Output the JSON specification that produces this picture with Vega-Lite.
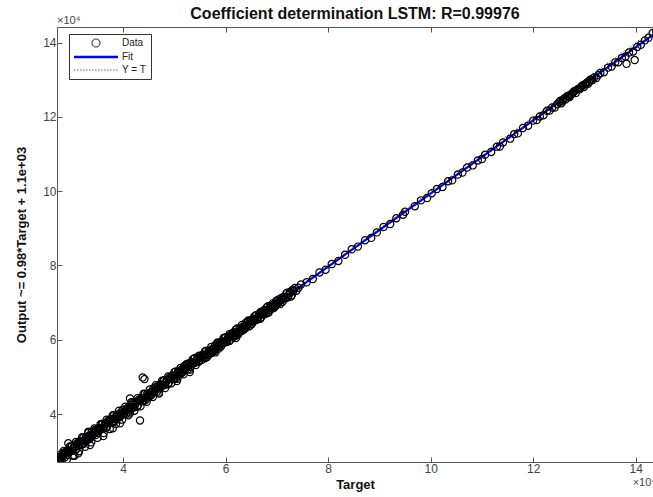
{
"$schema": "https://vega.github.io/schema/vega-lite/v6.json",
"autosize": "none",
"width": 596,
"height": 435,
"padding": {"left": 57, "top": 27, "right": 0, "bottom": 35},
"background": "white",
"title": {"text": "Coefficient determination LSTM: R=0.99976", "fontSize": 16, "fontWeight": "bold", "font": "Liberation Sans", "color": "#111111", "anchor": "middle", "offset": -7},
"config": {"view": {"stroke": null}, "font": "Liberation Sans",
  "axis": {"grid": false, "domainColor": "#555555", "tickColor": "#555555", "labelColor": "#444444", "labelFont": "Liberation Sans", "labelFontSize": 12, "titleFont": "Liberation Sans", "titleFontSize": 13, "titleFontWeight": "bold", "titleColor": "#111111"}},
"datasets": {
"yt": [{"t": 27100, "y": 27100}, {"t": 144200, "y": 144200}],
"fit": [{"t": 27100, "y": 27600}, {"t": 144200, "y": 142900}],
"pts": [
{"t":27300,"y":28150},{"t":27600,"y":27650},{"t":27900,"y":29200},{"t":28200,"y":28550},{"t":28500,"y":29050},{"t":28800,"y":29900},{"t":29100,"y":28950},{"t":29400,"y":30150},{"t":29700,"y":29900},{"t":30000,"y":31400},
{"t":30300,"y":30750},{"t":30600,"y":31550},{"t":30900,"y":30700},{"t":31200,"y":31850},{"t":31500,"y":32650},{"t":31800,"y":31900},{"t":32100,"y":32700},{"t":32400,"y":32050},{"t":32700,"y":33750},{"t":33000,"y":33250},
{"t":33300,"y":34150},{"t":33600,"y":33650},{"t":33900,"y":35200},{"t":34200,"y":34550},{"t":34500,"y":35050},{"t":34800,"y":35900},{"t":35100,"y":34950},{"t":35400,"y":36150},{"t":35700,"y":35900},{"t":36000,"y":37400},
{"t":36300,"y":36750},{"t":36600,"y":37550},{"t":36900,"y":36700},{"t":37200,"y":37850},{"t":37500,"y":38650},{"t":37800,"y":37900},{"t":38100,"y":38700},{"t":38400,"y":38050},{"t":38700,"y":39750},{"t":39000,"y":39250},
{"t":39300,"y":40150},{"t":39600,"y":39650},{"t":39900,"y":41200},{"t":40200,"y":40250},{"t":40500,"y":40750},{"t":40800,"y":41600},{"t":41100,"y":40650},{"t":41400,"y":41850},{"t":41700,"y":41600},{"t":42000,"y":43100},
{"t":42300,"y":42450},{"t":42600,"y":43250},{"t":42900,"y":42400},{"t":43200,"y":43550},{"t":43500,"y":44350},{"t":43800,"y":43600},{"t":44100,"y":44400},{"t":44400,"y":43750},{"t":44700,"y":45450},{"t":45000,"y":44950},
{"t":45300,"y":45850},{"t":45600,"y":45350},{"t":45900,"y":46900},{"t":46200,"y":46250},{"t":46500,"y":46750},{"t":46800,"y":47600},{"t":47100,"y":46650},{"t":47400,"y":47850},{"t":47700,"y":47600},{"t":48000,"y":49100},
{"t":48300,"y":48450},{"t":48600,"y":49250},{"t":48900,"y":48400},{"t":49200,"y":49550},{"t":49500,"y":50350},{"t":49800,"y":49600},{"t":50100,"y":50400},{"t":50400,"y":49750},{"t":50700,"y":51450},{"t":51000,"y":50950},
{"t":51300,"y":51850},{"t":51600,"y":51350},{"t":51900,"y":52900},{"t":52200,"y":52250},{"t":52500,"y":52750},{"t":52800,"y":53600},{"t":53100,"y":52650},{"t":53400,"y":53850},{"t":53700,"y":53600},{"t":54000,"y":55100},
{"t":54300,"y":54450},{"t":54600,"y":55250},{"t":54900,"y":54400},{"t":55200,"y":55150},{"t":55500,"y":55950},{"t":55800,"y":55200},{"t":56100,"y":56000},{"t":56400,"y":55350},{"t":56700,"y":57050},{"t":57000,"y":56550},
{"t":57300,"y":57450},{"t":57600,"y":56950},{"t":57900,"y":58500},{"t":58200,"y":57850},{"t":58500,"y":58350},{"t":58800,"y":59200},{"t":59100,"y":58250},{"t":59400,"y":59450},{"t":59700,"y":59200},{"t":60000,"y":60700},
{"t":60300,"y":60050},{"t":60600,"y":60850},{"t":60900,"y":60000},{"t":61200,"y":61150},{"t":61500,"y":61950},{"t":61800,"y":61200},{"t":62100,"y":62000},{"t":62400,"y":61350},{"t":62700,"y":63050},{"t":63000,"y":62550},
{"t":63300,"y":63450},{"t":63600,"y":62950},{"t":63900,"y":64500},{"t":64200,"y":63850},{"t":64500,"y":64350},{"t":64800,"y":65200},{"t":65100,"y":64250},{"t":65400,"y":65450},{"t":65700,"y":65200},{"t":66000,"y":66700},
{"t":66300,"y":66050},{"t":66600,"y":66850},{"t":66900,"y":66000},{"t":67200,"y":67150},{"t":67500,"y":67950},{"t":67800,"y":67200},{"t":68100,"y":68000},{"t":68400,"y":67350},{"t":68700,"y":69050},{"t":69000,"y":68550},
{"t":69300,"y":69450},{"t":69600,"y":68950},{"t":69900,"y":70500},{"t":70200,"y":69850},{"t":70500,"y":70350},{"t":70800,"y":71200},{"t":71100,"y":70250},{"t":71400,"y":71450},{"t":71700,"y":71200},{"t":72000,"y":72700},
{"t":72300,"y":72050},{"t":72600,"y":72850},{"t":72900,"y":72000},{"t":73200,"y":73150},{"t":73500,"y":73950},{"t":73800,"y":73200},{"t":74200,"y":74000},{"t":74700,"y":74900},
{"t":27450,"y":27350},{"t":27750,"y":28450},{"t":28050,"y":28250},{"t":28350,"y":29550},{"t":28650,"y":28350},{"t":28950,"y":29450},{"t":29250,"y":30250},{"t":29550,"y":29900},{"t":29850,"y":31200},{"t":30150,"y":30150},
{"t":30450,"y":31250},{"t":30750,"y":30350},{"t":31050,"y":32150},{"t":31350,"y":31800},{"t":31650,"y":32550},{"t":31950,"y":31750},{"t":32250,"y":33750},{"t":32550,"y":32700},{"t":32850,"y":33500},{"t":33150,"y":33100},
{"t":33450,"y":33350},{"t":33750,"y":34450},{"t":34050,"y":34250},{"t":34350,"y":35550},{"t":34650,"y":34350},{"t":34950,"y":35450},{"t":35250,"y":36250},{"t":35550,"y":35900},{"t":35850,"y":37200},{"t":36150,"y":36150},
{"t":36450,"y":37250},{"t":36750,"y":36350},{"t":37050,"y":38150},{"t":37350,"y":37800},{"t":37650,"y":38550},{"t":37950,"y":37750},{"t":38250,"y":39750},{"t":38550,"y":38700},{"t":38850,"y":39500},{"t":39150,"y":39100},
{"t":39450,"y":39350},{"t":39750,"y":40450},{"t":40050,"y":39950},{"t":40350,"y":41250},{"t":40650,"y":40050},{"t":40950,"y":41150},{"t":41250,"y":41950},{"t":41550,"y":41600},{"t":41850,"y":42900},{"t":42150,"y":41850},
{"t":42450,"y":42950},{"t":42750,"y":42050},{"t":43050,"y":43850},{"t":43350,"y":43500},{"t":43650,"y":44250},{"t":43950,"y":43450},{"t":44250,"y":45450},{"t":44550,"y":44400},{"t":44850,"y":45200},{"t":45150,"y":44800},
{"t":45450,"y":45050},{"t":45750,"y":46150},{"t":46050,"y":45950},{"t":46350,"y":47250},{"t":46650,"y":46050},{"t":46950,"y":47150},{"t":47250,"y":47950},{"t":47550,"y":47600},{"t":47850,"y":48900},{"t":48150,"y":47850},
{"t":48450,"y":48950},{"t":48750,"y":48050},{"t":49050,"y":49850},{"t":49350,"y":49500},{"t":49650,"y":50250},{"t":49950,"y":49450},{"t":50250,"y":51450},{"t":50550,"y":50400},{"t":50850,"y":51200},{"t":51150,"y":50800},
{"t":51450,"y":51050},{"t":51750,"y":52150},{"t":52050,"y":51950},{"t":52350,"y":53250},{"t":52650,"y":52050},{"t":52950,"y":53150},{"t":53250,"y":53950},{"t":53550,"y":53600},{"t":53850,"y":54900},{"t":54150,"y":53850},
{"t":54450,"y":54950},{"t":54750,"y":54050},{"t":55050,"y":55450},{"t":55350,"y":55100},{"t":55650,"y":55850},{"t":55950,"y":55050},{"t":56250,"y":57050},{"t":56550,"y":56000},{"t":56850,"y":56800},{"t":57150,"y":56400},
{"t":57450,"y":56650},{"t":57750,"y":57750},{"t":58050,"y":57550},{"t":58350,"y":58850},{"t":58650,"y":57650},{"t":58950,"y":58750},{"t":59250,"y":59550},{"t":59550,"y":59200},{"t":59850,"y":60500},{"t":60150,"y":59450},
{"t":60450,"y":60550},{"t":60750,"y":59650},{"t":61050,"y":61450},{"t":61350,"y":61100},{"t":61650,"y":61850},{"t":61950,"y":61050},{"t":62250,"y":63050},{"t":62550,"y":62000},{"t":62850,"y":62800},{"t":63150,"y":62400},
{"t":63450,"y":62650},{"t":63750,"y":63750},{"t":64050,"y":63550},{"t":64350,"y":64850},{"t":64650,"y":63650},{"t":64950,"y":64750},{"t":65250,"y":65550},{"t":65550,"y":65200},{"t":65850,"y":66500},{"t":66150,"y":65450},
{"t":66450,"y":66550},{"t":66750,"y":65650},{"t":67050,"y":67450},{"t":67350,"y":67100},{"t":67650,"y":67850},{"t":67950,"y":67050},{"t":68250,"y":69050},{"t":68550,"y":68000},{"t":68850,"y":68800},{"t":69150,"y":68400},
{"t":69450,"y":68650},{"t":69750,"y":69750},{"t":70050,"y":69550},{"t":70350,"y":70850},{"t":70650,"y":69650},{"t":70950,"y":70750},{"t":71250,"y":71550},{"t":71550,"y":71200},{"t":71850,"y":72500},{"t":72150,"y":71450},
{"t":72450,"y":72550},{"t":72750,"y":71650},{"t":73050,"y":73450},
{"t":28400,"y":30100},{"t":29000,"y":27700},{"t":29600,"y":31300},{"t":30200,"y":28800},{"t":30800,"y":32500},{"t":31400,"y":30000},{"t":32000,"y":33800},{"t":32600,"y":31200},{"t":33200,"y":34900},{"t":33800,"y":32400},
{"t":34400,"y":36100},{"t":35000,"y":33600},{"t":35600,"y":37300},{"t":36200,"y":34900},{"t":36800,"y":38500},{"t":37400,"y":36000},{"t":38000,"y":39700},{"t":38600,"y":37300},{"t":39200,"y":40900},{"t":39800,"y":38500},
{"t":40400,"y":42000},{"t":41000,"y":39700},{"t":41600,"y":43200},{"t":42200,"y":40900},{"t":42800,"y":44300},{"t":43400,"y":42100},{"t":44000,"y":45500},{"t":44600,"y":43300},{"t":45200,"y":46600},{"t":45800,"y":44600},
{"t":46400,"y":47800},{"t":47000,"y":45800},{"t":47600,"y":49000},{"t":48200,"y":47000},{"t":48800,"y":50100},{"t":49400,"y":48300},{"t":50000,"y":51300},{"t":50600,"y":49500},{"t":51200,"y":52400},{"t":51800,"y":50700},
{"t":52400,"y":53500},{"t":53000,"y":52000},{"t":53600,"y":54800},{"t":54200,"y":53200},{"t":54800,"y":55700},{"t":55400,"y":54600},{"t":56000,"y":56900},{"t":56600,"y":55800},{"t":57200,"y":58100},{"t":57800,"y":56900},
{"t":58400,"y":59300},{"t":59000,"y":58200},{"t":59600,"y":60500},{"t":60200,"y":59400},{"t":60800,"y":61600},{"t":61400,"y":60600},{"t":62000,"y":62800},{"t":62600,"y":61800},{"t":63200,"y":64000},{"t":63800,"y":63000},
{"t":64400,"y":65200},{"t":65000,"y":64200},{"t":65600,"y":66300},{"t":66200,"y":65500},{"t":66800,"y":67500},{"t":67400,"y":66700},{"t":68000,"y":68700},{"t":68600,"y":68000},{"t":69200,"y":69800},{"t":69800,"y":69200},
{"t":43820,"y":49870},{"t":44170,"y":49410},{"t":43290,"y":38290},{"t":41340,"y":44220},{"t":36130,"y":34090},{"t":33540,"y":31670},{"t":31260,"y":29440},{"t":29300,"y":32130},{"t":33210,"y":35250},{"t":39390,"y":37500},
{"t":41340,"y":40190},{"t":47000,"y":45500},{"t":50500,"y":48900},{"t":53000,"y":51300},{"t":58000,"y":56600},{"t":62000,"y":60500},{"t":30500,"y":28800},{"t":38000,"y":36200},{"t":28000,"y":27600},
{"t":75800,"y":75480},{"t":77000,"y":76360},{"t":78300,"y":78130},{"t":79500,"y":78860},{"t":80700,"y":80390},{"t":82000,"y":81210},{"t":83300,"y":82880},{"t":84600,"y":84360},{"t":85800,"y":85080},{"t":87200,"y":86810},
{"t":88400,"y":87430},{"t":89500,"y":88910},{"t":90800,"y":90380},{"t":92100,"y":91160},{"t":93300,"y":92730},{"t":94600,"y":93660},{"t":95000,"y":94450},{"t":96900,"y":95960},{"t":98100,"y":97540},{"t":99300,"y":98160},
{"t":100200,"y":99450},{"t":101200,"y":100580},{"t":102300,"y":101150},{"t":103400,"y":102680},{"t":104200,"y":102920},{"t":105300,"y":104490},{"t":106200,"y":105030},{"t":107100,"y":106360},{"t":108200,"y":106940},{"t":109200,"y":108270},
{"t":110000,"y":108650},{"t":110600,"y":109790},{"t":111800,"y":110560},{"t":112900,"y":111990},{"t":113500,"y":112030},{"t":114100,"y":113120},{"t":115500,"y":114140},{"t":116300,"y":115370},{"t":117000,"y":115560},{"t":118000,"y":116990},
{"t":119000,"y":117620},{"t":120000,"y":119000},{"t":120700,"y":119140},{"t":121300,"y":120120},{"t":122000,"y":120460},{"t":122700,"y":121650},{"t":123200,"y":121690},{"t":123700,"y":122530},{"t":124200,"y":122520},{"t":124700,"y":123410},
{"t":125100,"y":124000},{"t":125500,"y":123690},{"t":125900,"y":124680},{"t":126300,"y":124670},{"t":126700,"y":125670},{"t":127100,"y":125360},{"t":127500,"y":126150},{"t":127900,"y":126790},{"t":128300,"y":126430},{"t":128700,"y":127430},
{"t":129100,"y":127470},{"t":129500,"y":128310},{"t":129900,"y":128050},{"t":130300,"y":128940},{"t":130700,"y":128940},{"t":131100,"y":129980},{"t":131500,"y":129870},{"t":131900,"y":130610},{"t":132300,"y":130450},{"t":132700,"y":131250},
{"t":125300,"y":124350},{"t":125700,"y":124200},{"t":126100,"y":125000},{"t":126900,"y":125450},{"t":127300,"y":126000},{"t":127700,"y":126400},{"t":128100,"y":127000},{"t":128900,"y":127600},{"t":129300,"y":128000},{"t":129700,"y":128550},
{"t":130100,"y":128700},{"t":130500,"y":129300},{"t":130900,"y":129400},{"t":131300,"y":130000},
{"t":133100,"y":131840},{"t":133800,"y":132020},{"t":134600,"y":133260},{"t":135300,"y":133540},{"t":136000,"y":134680},{"t":136600,"y":134720},{"t":137300,"y":135850},{"t":138000,"y":136240},{"t":138700,"y":137330},{"t":139500,"y":137610},
{"t":140300,"y":138840},{"t":141000,"y":139400},{"t":141800,"y":140600},{"t":142500,"y":141300},{"t":143300,"y":142600},{"t":144000,"y":143000},{"t":138200,"y":134300},{"t":139800,"y":135300}
]
},
"resolve": {"axis": {"x": "independent", "y": "independent"}},
"layer": [
{"data": {"name": "yt"},
 "mark": {"type": "line", "strokeDash": [1.5, 2], "strokeWidth": 1, "clip": true},
 "encoding": {
  "x": {"field": "t", "type": "quantitative", "scale": {"domain": [27100, 143370], "nice": false, "zero": false},
        "axis": {"orient": "top", "labels": false, "title": null, "values": [40000, 60000, 80000, 100000, 120000, 140000], "tickSize": -5}},
  "y": {"field": "y", "type": "quantitative", "scale": {"domain": [27100, 144200], "nice": false, "zero": false}, "axis": null},
  "color": {"datum": "Y = T", "type": "nominal",
    "scale": {"domain": ["Data", "Fit", "Y = T"], "range": ["#000000", "#0000ff", "#666666"]},
    "legend": {"title": null, "orient": "none", "legendX": 12, "legendY": 7, "padding": 4, "rowPadding": 3,
      "fillColor": "white", "strokeColor": "#333333", "symbolSize": 64, "symbolOffset": 18, "labelOffset": 21,
      "labelFontSize": 10, "labelFont": "Liberation Sans", "labelColor": "#222222",
      "labelExpr": "datum.label + '\u00a0\u00a0\u00a0\u00a0\u00a0'",
      "encode": {"symbols": {"update": {
        "shape": {"signal": "datum.value === 'Data' ? 'circle' : 'M-5.5,0L5.5,0'"},
        "stroke": {"signal": "datum.value === 'Data' ? '#1a1a1a' : datum.value === 'Fit' ? '#0000ff' : '#666666'"},
        "strokeWidth": {"signal": "datum.value === 'Fit' ? 2.5 : 1"},
        "strokeDash": {"signal": "datum.value === 'Y = T' ? [1.5,1.5] : [1,0]"},
        "fill": {"value": "transparent"},
        "opacity": {"value": 1}}}}}}
 }},
{"data": {"name": "fit"},
 "mark": {"type": "line", "strokeWidth": 2.2, "clip": true},
 "encoding": {
  "x": {"field": "t", "type": "quantitative", "axis": null},
  "y": {"field": "y", "type": "quantitative", "axis": null},
  "color": {"datum": "Fit", "type": "nominal"}
 }},
{"data": {"name": "pts"},
 "mark": {"type": "point", "filled": false, "size": 52, "strokeWidth": 1.2, "opacity": 1, "clip": true},
 "encoding": {
  "x": {"field": "t", "type": "quantitative", "title": "Target",
        "axis": {"values": [40000, 60000, 80000, 100000, 120000, 140000], "labelExpr": "'' + datum.value/10000", "tickSize": -5, "labelPadding": 6, "titlePadding": 4}},
  "y": {"field": "y", "type": "quantitative", "title": "Output ~= 0.98*Target + 1.1e+03",
        "axis": {"values": [40000, 60000, 80000, 100000, 120000, 140000], "labelExpr": "'' + datum.value/10000", "tickSize": -5, "labelPadding": 6, "titlePadding": 14}},
  "color": {"datum": "Data", "type": "nominal"}
 }},
{"data": {"values": [{}]},
 "mark": {"type": "text", "align": "left", "baseline": "bottom", "dy": -1, "fontSize": 11, "color": "#444444", "font": "Liberation Sans"},
 "encoding": {
  "x": {"datum": 27100, "type": "quantitative", "axis": null},
  "y": {"datum": 144200, "type": "quantitative", "axis": null},
  "text": {"value": "×10⁴"}
 }},
{"data": {"values": [{}]},
 "mark": {"type": "text", "align": "left", "baseline": "middle", "dy": 21, "fontSize": 11, "color": "#444444", "font": "Liberation Sans"},
 "encoding": {
  "x": {"datum": 139400, "type": "quantitative", "axis": null},
  "y": {"datum": 27100, "type": "quantitative", "axis": null},
  "text": {"value": "×10⁴"}
 }}
]
}
